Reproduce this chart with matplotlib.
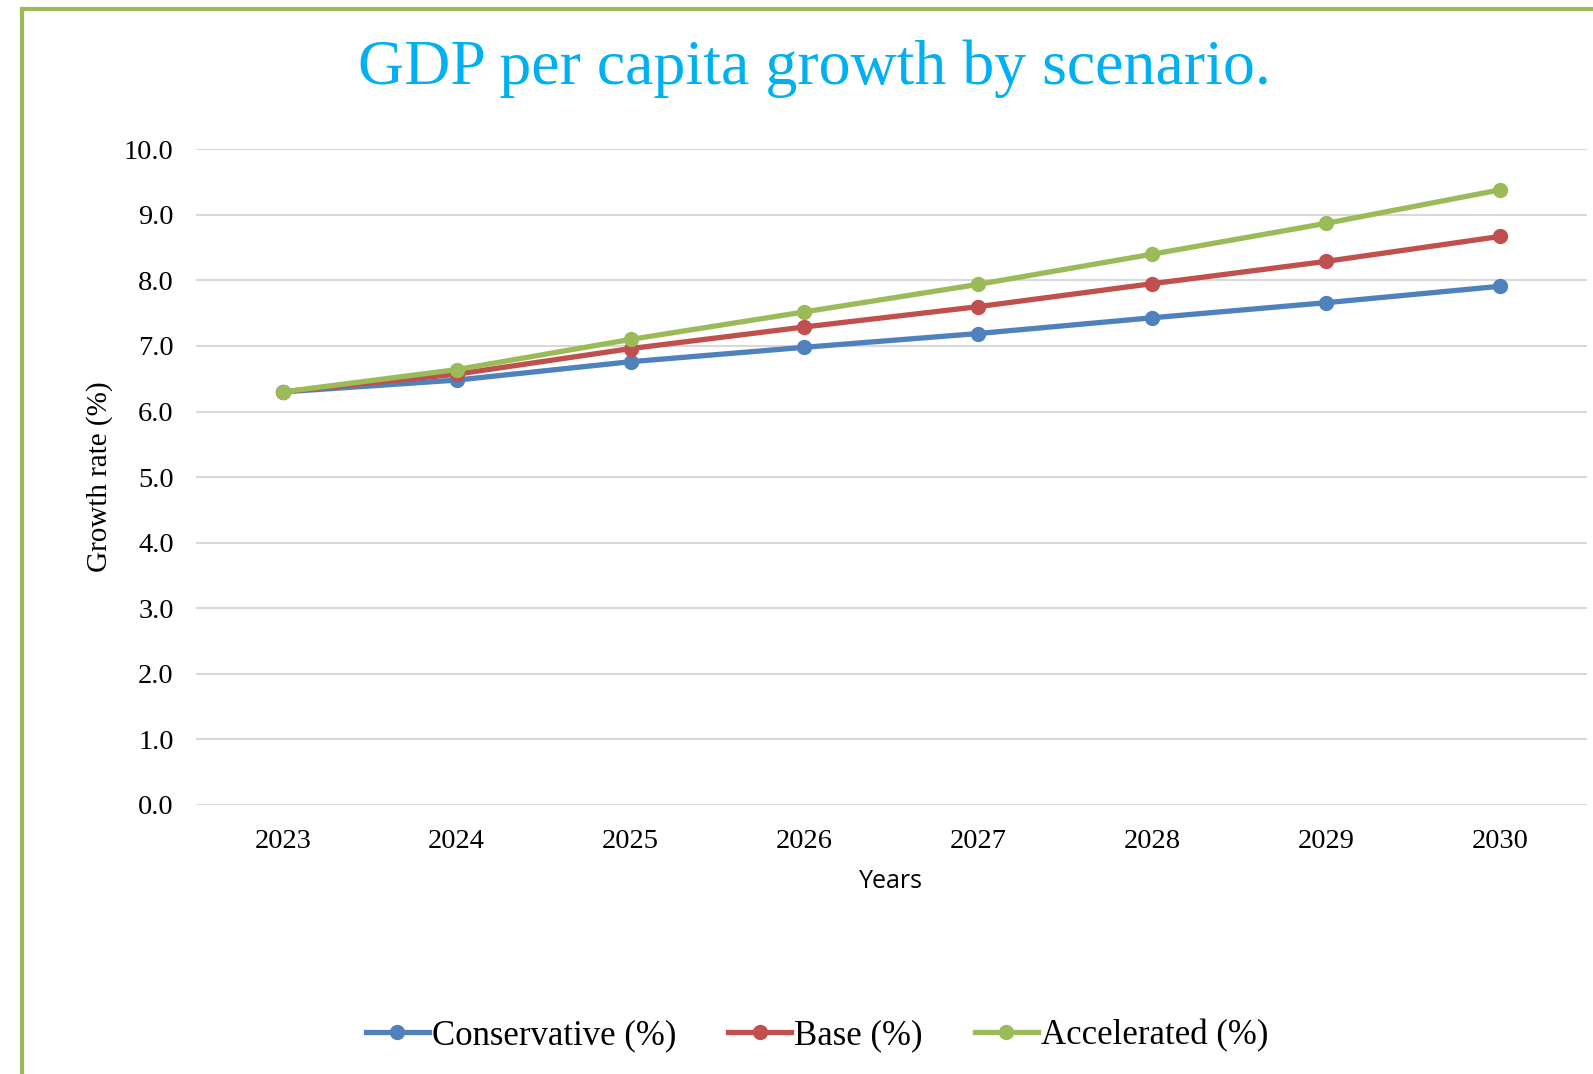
import matplotlib
matplotlib.use("Agg")
import matplotlib.pyplot as plt
from matplotlib.lines import Line2D

years = ["2023", "2024", "2025", "2026", "2027", "2028", "2029", "2030"]
conservative = [6.3, 6.48, 6.76, 6.98, 7.19, 7.43, 7.66, 7.91]
base = [6.3, 6.57, 6.96, 7.29, 7.60, 7.95, 8.29, 8.67]
accelerated = [6.3, 6.64, 7.10, 7.52, 7.94, 8.40, 8.87, 9.38]
yticks = [0, 1, 2, 3, 4, 5, 6, 7, 8, 9, 10]

serif = "Liberation Serif"

fig = plt.figure(figsize=(15.93, 10.74), dpi=100)
ax = fig.add_axes([0.123, 0.2505, 0.873, 0.6105])

x = range(len(years))
series = [
    ("Conservative (%)", conservative, "#4F81BD"),
    ("Base (%)", base, "#C0504D"),
    ("Accelerated (%)", accelerated, "#9BBB59"),
]
for label, vals, color in series:
    ax.plot(x, vals, color=color, lw=3.8, marker="o", markersize=10, label=label)

ax.set_xlim(-0.5, len(years) - 0.5)
ax.set_ylim(0, 10)
ax.set_yticks(yticks)
ax.set_yticklabels([f"{v:.1f}" for v in yticks], fontfamily=serif, fontsize=20.5)
ax.set_xticks(list(x))
ax.set_xticklabels(years, fontfamily=serif, fontsize=20.5)
ax.tick_params(length=0)
ax.tick_params(axis="x", pad=17)
ax.tick_params(axis="y", pad=16)
ax.grid(axis="y", color="#d9d9d9", lw=1.5)
ax.set_axisbelow(True)
for s in ax.spines.values():
    s.set_visible(False)

ax.set_xlabel("Years", fontfamily="Open Sans", fontsize=18, labelpad=11)
ax.set_ylabel("Growth rate (%)", fontfamily=serif, fontsize=21, labelpad=8)

fig.text(0.511, 0.936, "GDP per capita growth by scenario.", ha="center", va="center",
         fontfamily=serif, fontsize=46, color="#00B0F0")

leg = fig.legend(loc="center", bbox_to_anchor=(0.513, 0.036), ncol=3, frameon=False,
                 prop={"family": serif, "size": 25}, handlelength=1.8, handletextpad=0.1,
                 columnspacing=1.5)

bx, by = 22 / 1593, 1 - 9 / 1074
fig.add_artist(Line2D([bx, bx], [0, by], color="#9BBB59", lw=3, transform=fig.transFigure))
fig.add_artist(Line2D([bx, 1], [by, by], color="#9BBB59", lw=3, transform=fig.transFigure))

fig.savefig("out.png", dpi=100)
